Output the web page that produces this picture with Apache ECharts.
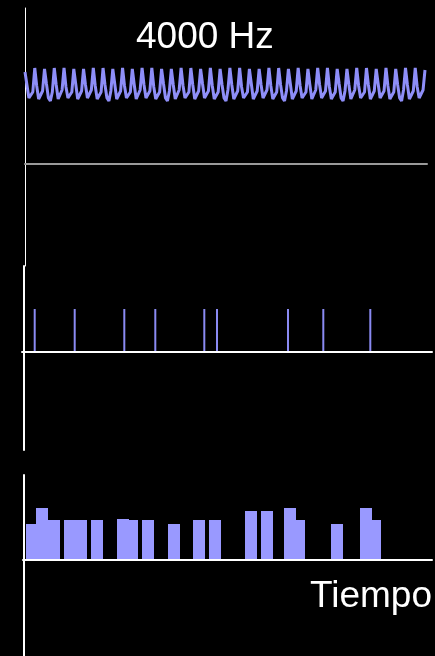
<!DOCTYPE html>
<html>
<head>
<meta charset="utf-8">
<script src="https://cdn.jsdelivr.net/npm/echarts@6/dist/echarts.min.js"></script>
<style>
html,body{margin:0;padding:0;background:#000;}
#chart{width:435px;height:656px;}
</style>
</head>
<body>
<div id="chart"></div>
<script>
// Panel 1: sampled 4000 Hz waveform (amplitude units above the gray baseline)
const waveValues = [
  92,79,66,64,72, 96,78,65,64,73, 95,80,66,63,72, 96,79,65,64,74, 96,77,66,64,72,
  95,80,65,63,73, 95,79,66,64,74, 96,78,65,64,72, 96,79,66,63,73, 95,80,65,64,73,
  96,78,66,64,72, 95,79,65,63,74, 96,79,66,64,73, 96,77,65,64,72, 95,80,66,63,73,
  95,79,65,64,74, 96,78,66,64,72, 96,79,65,63,73, 95,80,66,64,73, 96,78,65,64,72,
  95,79,66,63,74, 96,79,65,64,73, 96,77,66,64,72, 95,80,65,63,73, 95,79,66,64,74,
  96,78,65,64,72, 96,79,66,63,73, 95,80,65,64,73, 96,78,66,64,72, 95,79,65,63,74,
  96,79,66,64,73, 96,77,65,64,72, 95,80,66,63,73, 95,79,65,64,74, 96,78,66,64,72,
  96,79,65,63,73, 95,80,66,64,73, 96,78,65,64,72, 95,79,66,63,74, 96,79,65,64,73,
  96,77,66,64,74, 94
];
const waveSpan = 400;      // time span covered by the waveform
const waveAxisMax = 402;   // time span of the panel axis

// Panel 2: spike train
const spikeTimes   = [10.7, 50.7, 100.3, 131.3, 180.3, 193, 264, 299.3, 346.3];
const spikeHeights = [43, 43, 43, 43, 43, 43, 43, 43, 43];

// Panel 3: histogram bars (start time, end time, height)
const barStarts  = [2, 12, 24, 40, 51, 67, 93, 105, 118, 144, 169, 185, 221, 237, 260, 272, 307, 336, 348];
const barEnds    = [12, 24, 36, 52, 63, 79, 105, 114, 130, 156, 181, 197, 233, 249, 272, 281, 319, 348, 357];
const barHeights = [36, 52, 40, 40, 40, 40, 41, 40, 40, 36, 40, 40, 49, 49, 52, 40, 36, 52, 40];

const titleText = '4000 Hz';
const timeLabel = 'Tiempo';

const FONT = '"Liberation Sans", Arial, Helvetica, sans-serif';
const waveStep = waveSpan / (waveValues.length - 1);
const waveData = waveValues.map((v, i) => [i * waveStep, v]);
const spikeData = spikeTimes.map((t, i) => [t, spikeHeights[i]]);
const barData = barStarts.map((s, i) => [s, barEnds[i], barHeights[i]]);

const hidden = {
  axisTick: {show: false},
  axisLabel: {show: false},
  splitLine: {show: false}
};

const chart = echarts.init(document.getElementById('chart'), null, {renderer: 'canvas'});
chart.setOption({
  animation: false,
  backgroundColor: '#000000',
  title: [
    {text: titleText, left: 136, top: 19, padding: 0,
     textStyle: {color: '#ffffff', fontSize: 37, fontWeight: 'normal', fontFamily: FONT}},
    {text: timeLabel, right: 3, top: 578, padding: 0,
     textStyle: {color: '#ffffff', fontSize: 37, fontWeight: 'normal', fontFamily: FONT}}
  ],
  grid: [
    {left: 25, top: 8, width: 402, height: 258},
    {left: 22, top: 266, width: 410, height: 184},
    {left: 23, top: 475, width: 409, height: 181}
  ],
  xAxis: [
    Object.assign({type: 'value', gridIndex: 0, min: 0, max: waveAxisMax, z: 3,
      axisLine: {show: true, onZero: true, lineStyle: {color: '#9a9a9a', width: 2}}}, hidden),
    Object.assign({type: 'value', gridIndex: 1, min: -2, max: 408, z: 3,
      axisLine: {show: true, onZero: true, lineStyle: {color: '#ffffff', width: 2}}}, hidden),
    Object.assign({type: 'value', gridIndex: 2, min: -1, max: 408, z: 3,
      axisLine: {show: true, onZero: true, lineStyle: {color: '#ffffff', width: 2}}}, hidden)
  ],
  yAxis: [
    Object.assign({type: 'value', gridIndex: 0, min: -102, max: 156, z: 3,
      axisLine: {show: true, onZero: false, lineStyle: {color: '#ffffff', width: 1}}}, hidden),
    Object.assign({type: 'value', gridIndex: 1, min: -98, max: 86, z: 3,
      axisLine: {show: true, onZero: true, lineStyle: {color: '#ffffff', width: 2}}}, hidden),
    Object.assign({type: 'value', gridIndex: 2, min: -96, max: 85, z: 3,
      axisLine: {show: true, onZero: true, lineStyle: {color: '#ffffff', width: 2}}}, hidden)
  ],
  series: [
    {
      type: 'line', xAxisIndex: 0, yAxisIndex: 0, data: waveData,
      showSymbol: false, smooth: false,
      lineStyle: {color: '#8e8ef8', width: 3}
    },
    {
      type: 'bar', xAxisIndex: 1, yAxisIndex: 1, data: spikeData,
      barWidth: 2, itemStyle: {color: '#8a8af2'}
    },
    {
      type: 'custom', xAxisIndex: 2, yAxisIndex: 2, data: barData,
      encode: {x: [0, 1], y: 2},
      renderItem: function (params, api) {
        const p0 = api.coord([api.value(0), api.value(2)]);
        const p1 = api.coord([api.value(1), 0]);
        return {
          type: 'rect',
          shape: {x: p0[0], y: p0[1], width: p1[0] - p0[0], height: p1[1] - p0[1]},
          style: {fill: '#9999ff'}
        };
      }
    }
  ]
});
</script>
</body>
</html>
